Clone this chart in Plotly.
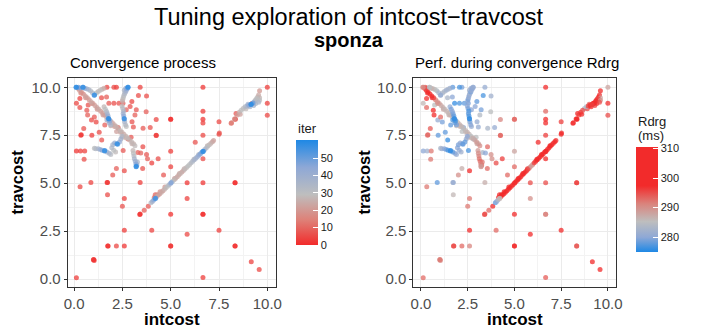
import plotly.graph_objects as go
import pandas as pd

FONT = "Liberation Sans, Arial, sans-serif"
W, H = 706, 333

# ---------------- data ----------------
# scattered early evaluations
scat_x = [6.67, 10.0, 10.0, 10.0, 6.67, 6.67, 6.67, 6.67, 6.67, 5.0,
          5.0, 5.0, 5.0, 5.0, 5.0, 5.0, 6.67, 6.67, 6.67, 6.67,
          5.85, 5.85, 5.85, 7.5, 7.5, 7.52, 7.5, 8.33, 8.33, 8.33,
          8.33, 9.17, 9.58, 8.38, 8.33, 8.35, 8.13, 6.27, 4.25, 4.25,
          4.25, 3.94, 4.35, 4.02, 3.8, 4.63, 3.42, 3.75, 3.73, 3.42,
          3.42, 3.4, 4.02, 3.56, 3.55, 3.75, 2.6, 2.5, 2.6, 2.6,
          2.19, 1.74, 1.76, 1.73, 1.71, 1.73, 2.0, 2.6, 2.19, 1.0,
          1.04, 1.02, 0.12, 0.87, 0.31, 0.12, 0.33, 0.55, 0.52, 0.35,
          0.37, 0.92, 0.5, 0.12, 0.3, 0.66, 0.7, 0.3, 3.63, 3.84,
          2.19, 1.7, 2.06, 3.33, 2.99, 2.9, 1.8, 2.06, 2.32, 2.53,
          2.7, 3.22, 0.9, 1.05, 1.59, 2.28, 3.0, 3.57, 1.42, 1.68,
          3.07, 3.15, 0.73, 1.3, 1.43, 2.54, 3.3, 3.45, 1.14, 2.8,
          2.95]
scat_y = [10.0, 10.0, 9.17, 8.54, 8.75, 8.33, 8.14, 7.5, 6.27, 8.33,
          8.33, 6.67, 5.85, 3.38, 1.72, 1.72, 5.02, 3.38, 3.38, 0.08,
          5.02, 4.2, 2.34, 8.2, 7.55, 7.62, 2.55, 5.02, 5.02, 1.72,
          1.72, 0.9, 0.5, 8.64, 8.35, 8.33, 8.12, 7.13, 8.32, 7.5,
          7.48, 7.9, 6.27, 6.05, 6.27, 5.43, 10.0, 9.55, 8.73, 5.03,
          3.39, 3.37, 2.55, 6.9, 5.76, 6.5, 4.2, 3.79, 2.55, 1.72,
          1.72, 1.72, 1.72, 5.03, 5.03, 4.4, 5.42, 5.65, 5.76, 1.0,
          0.97, 1.02, 0.07, 5.03, 4.81, 6.68, 6.68, 6.68, 6.25, 7.5,
          7.52, 7.5, 7.85, 9.17, 8.95, 8.8, 8.55, 9.42, 3.59, 3.8,
          10.0, 10.0, 10.0, 9.57, 9.26, 9.0, 9.17, 9.17, 9.17, 9.17,
          8.83, 8.83, 8.3, 8.45, 8.04, 7.9, 8.2, 7.86, 9.45, 9.5,
          7.93, 8.55, 9.08, 7.65, 7.25, 6.7, 6.6, 6.58, 8.19, 7.3,
          7.4]
scat_iter = [2, 3, 4, 5, 3, 2, 4, 5, 6, 1,
             0, 3, 4, 1, 0, 2, 2, 1, 0, 3,
             2, 4, 5, 5, 6, 7, 3, 0, 1, 1,
             0, 4, 5, 8, 6, 7, 9, 7, 5, 3,
             2, 7, 6, 4, 9, 8, 4, 6, 9, 3,
             1, 0, 4, 6, 7, 8, 4, 7, 3, 2,
             5, 1, 0, 2, 1, 6, 8, 6, 9, 0,
             1, 2, 3, 4, 5, 2, 3, 4, 6, 2,
             1, 3, 7, 5, 6, 8, 9, 4, 9, 8,
             3, 4, 5, 6, 5, 7, 8, 6, 7, 9,
             10, 8, 6, 8, 9, 10, 7, 8, 6, 9,
             8, 9, 7, 6, 7, 8, 9, 10, 5, 9,
             8]
scat_rdrg = [305, 288, 297, 295, 293, 300, 300, 296, 298, 293,
             294, 288, 293, 302, 303, 303, 295, 291, 292, 294,
             295, 290, 302, 296, 300, 299, 301, 295, 296, 294,
             295, 304, 305, 299, 298, 299, 299, 298, 291, 293,
             294, 281, 296, 295, 290, 293, 281, 282, 285, 287,
             295, 296, 293, 293, 293, 290, 292, 292, 302, 291,
             293, 295, 296, 281, 282, 286, 290, 298, 287, 291,
             291, 292, 293, 278, 292, 280, 282, 292, 292, 293,
             294, 278, 294, 286, 293, 298, 300, 297, 293, 302,
             279, 278, 277, 277, 278, 280, 276, 277, 278, 279,
             280, 279, 281, 293, 278, 280, 281, 283, 283, 280,
             281, 284, 285, 278, 276, 277, 283, 280, 279, 283,
             285]

# convergence trails in the upper-left cluster
t1_x = [0.1, 0.12, 0.22, 0.3, 0.45, 0.47, 0.55, 0.65, 0.75, 0.85, 0.95, 1.04, 1.06, 1.15, 1.25, 1.35, 1.45, 1.55]
t1_y = [10.0, 10.0, 10.0, 9.97, 10.0, 10.0, 9.95, 9.92, 9.88, 9.82, 9.72, 9.58, 9.6, 9.7, 9.78, 9.85, 9.9, 9.95]
t1_iter = [57, 58, 48, 45, 56, 57, 42, 38, 35, 32, 34, 55, 56, 30, 27, 29, 25, 24]
t1_rdrg = [290, 291, 294, 296, 284, 285, 287, 286, 285, 284, 283, 282, 281, 283, 284, 282, 283, 281]

t2_x = [2.78, 2.8, 2.75, 2.7, 2.66, 2.62, 2.58, 2.55, 2.52, 2.5, 2.6, 2.68]
t2_y = [10.0, 10.0, 9.92, 9.84, 9.76, 9.68, 9.58, 9.48, 9.38, 9.28, 9.85, 9.95]
t2_iter = [58, 57, 46, 40, 36, 33, 31, 29, 27, 25, 35, 42]
t2_rdrg = [281, 280, 280, 281, 279, 282, 280, 281, 279, 280, 282, 281]

t3_x = [1.78, 1.8, 1.76, 1.72, 1.68, 1.62, 1.55, 1.85, 1.82, 1.9, 1.7]
t3_y = [8.37, 8.35, 8.5, 8.62, 8.74, 8.86, 8.98, 8.25, 8.15, 8.05, 8.3]
t3_iter = [58, 57, 42, 37, 33, 30, 27, 45, 40, 35, 38]
t3_rdrg = [276, 276, 278, 279, 280, 279, 281, 277, 278, 279, 277]

t4_x = [2.59, 2.6, 2.57, 2.54, 2.56, 2.52, 2.48, 2.62, 2.66, 2.7]
t4_y = [8.37, 8.35, 8.5, 8.63, 8.77, 8.9, 9.02, 8.2, 8.05, 7.95]
t4_iter = [56, 55, 44, 39, 34, 31, 28, 36, 32, 29]
t4_rdrg = [276, 276, 277, 278, 277, 279, 280, 279, 280, 281]

t5_x = [2.25, 2.22, 2.1, 2.0, 1.95, 2.35, 2.42, 2.48, 2.05, 2.15]
t5_y = [7.03, 7.05, 7.1, 7.0, 6.85, 7.15, 7.3, 7.45, 6.72, 6.62]
t5_iter = [57, 56, 42, 37, 34, 43, 38, 34, 30, 28]
t5_rdrg = [278, 279, 280, 279, 280, 278, 281, 280, 281, 282]

t6_x = [1.57, 1.59, 1.45, 1.35, 1.25, 1.12, 1.05, 1.7, 1.82, 1.9]
t6_y = [6.68, 6.7, 6.72, 6.76, 6.79, 6.8, 6.82, 6.62, 6.56, 6.5]
t6_iter = [56, 57, 46, 41, 36, 33, 30, 39, 35, 31]
t6_rdrg = [276, 276, 277, 279, 280, 282, 283, 278, 280, 281]

t7_x = [3.21, 3.22, 3.2, 3.17, 3.12, 3.1, 3.07, 3.05, 3.25, 3.28]
t7_y = [5.85, 5.88, 6.0, 6.14, 6.28, 6.42, 6.56, 6.7, 5.95, 6.1]
t7_iter = [58, 57, 46, 41, 36, 32, 29, 27, 40, 35]
t7_rdrg = [289, 290, 291, 293, 292, 291, 290, 289, 293, 292]

# anti-diagonal streak (0,10) -> (3.2,6.9)
anti_x = [0.2, 0.28, 0.38, 0.48, 0.58, 0.68, 0.78, 0.88, 0.98, 1.08,
          1.18, 1.28, 1.38, 1.48, 1.58, 1.68, 1.88, 1.98, 2.08, 2.18,
          2.28, 2.38, 2.48, 2.58, 2.68, 2.78, 2.88, 2.98, 3.08, 3.15,
          0.35, 0.6, 0.9, 1.2, 1.5, 1.8, 2.1, 2.4, 2.7, 3.0, 1.9, 2.2, 2.5]
anti_y = [9.95, 9.85, 9.75, 9.65, 9.55, 9.45, 9.35, 9.25, 9.15, 9.05,
          8.95, 8.85, 8.75, 8.65, 8.55, 8.45, 8.25, 8.15, 8.05, 7.95,
          7.85, 7.75, 7.65, 7.55, 7.45, 7.35, 7.25, 7.15, 7.05, 6.95,
          9.7, 9.45, 9.15, 8.85, 8.55, 8.25, 7.95, 7.65, 7.35, 7.05, 8.0, 7.7, 7.4]
anti_iter = [18, 20, 19, 17, 22, 21, 20, 23, 19, 21,
             22, 24, 20, 22, 21, 23, 25, 22, 24, 26,
             23, 27, 25, 24, 26, 28, 25, 27, 26, 28,
             16, 18, 20, 19, 21, 22, 20, 23, 24, 26, 24, 22, 25]
anti_rdrg = [300, 302, 301, 300, 298, 296, 292, 290, 289, 288,
             287, 286, 287, 286, 287, 286, 285, 286, 287, 286,
             285, 286, 287, 286, 285, 287, 288, 289, 288, 290,
             299, 297, 290, 288, 287, 286, 287, 286, 287, 288, 286, 285, 287]

# diagonal streak (4,4) -> (7.2,7.2)
diag_x = [3.98, 4.05, 4.12, 4.2, 4.22, 4.2, 4.28, 4.36, 4.44, 4.52,
          4.6, 4.68, 4.76, 4.84, 4.92, 5.0, 5.03, 5.1, 5.18, 5.26,
          5.34, 5.42, 5.5, 5.58, 5.66, 5.74, 5.82, 5.9, 5.98, 6.06,
          6.14, 6.22, 6.3, 6.38, 6.46, 6.54, 6.62, 6.67, 6.69, 6.76,
          6.84, 6.92, 7.0, 7.08, 7.16, 7.22,
          4.15, 4.3, 4.45, 4.7, 5.2, 5.45, 5.7, 6.2, 6.45, 6.9]
diag_y = [3.98, 4.05, 4.12, 4.2, 4.22, 4.4, 4.3, 4.38, 4.45, 4.52,
          4.6, 4.68, 4.76, 4.84, 4.92, 5.0, 5.03, 5.1, 5.18, 5.26,
          5.34, 5.42, 5.5, 5.58, 5.66, 5.74, 5.82, 5.9, 5.98, 6.06,
          6.14, 6.22, 6.3, 6.38, 6.46, 6.54, 6.62, 6.65, 6.67, 6.76,
          6.84, 6.92, 7.0, 7.08, 7.16, 7.22,
          4.25, 4.4, 4.55, 4.8, 5.25, 5.5, 5.75, 6.25, 6.5, 6.95]
diag_iter = [33, 38, 45, 55, 54, 10, 24, 20, 22, 24,
             21, 26, 28, 30, 34, 45, 46, 30, 27, 25,
             23, 24, 26, 22, 25, 28, 27, 30, 29, 32,
             34, 36, 38, 40, 43, 46, 50, 58, 57, 36,
             32, 29, 27, 25, 23, 22,
             12, 15, 18, 20, 22, 24, 25, 28, 30, 26]
diag_rdrg = [278, 280, 283, 286, 287, 302, 300, 301, 299, 302,
             300, 303, 301, 300, 302, 303, 304, 301, 300, 302,
             299, 301, 300, 302, 298, 295, 290, 289, 291, 296,
             300, 302, 301, 303, 302, 304, 303, 304, 305, 303,
             302, 301, 300, 302, 301, 300,
             301, 300, 302, 301, 300, 301, 299, 300, 302, 303]

# upper-right streak (8.2,8.2) -> (9.6,9.8)
ur_x = [8.15, 8.3, 8.45, 8.55, 8.65, 8.75, 8.85, 8.95, 9.05, 9.15,
        9.17, 9.2, 9.25, 9.3, 9.35, 9.4, 9.45, 9.5, 9.55, 9.6,
        9.55, 9.6, 9.6, 9.1, 8.9, 9.3, 9.4, 9.0, 8.6]
ur_y = [8.15, 8.35, 8.55, 8.7, 8.8, 8.9, 8.98, 9.02, 9.07, 9.1,
        9.12, 9.15, 9.18, 9.2, 9.28, 9.35, 9.42, 9.5, 9.6, 9.82,
        9.22, 9.32, 9.45, 8.98, 8.88, 9.05, 9.15, 9.12, 8.6]
ur_iter = [15, 18, 20, 25, 30, 28, 33, 35, 45, 58,
           57, 8, 50, 40, 32, 28, 30, 26, 24, 20,
           35, 30, 27, 36, 28, 38, 34, 40, 22]
ur_rdrg = [297, 298, 296, 297, 295, 283, 284, 296, 298, 296,
           297, 300, 298, 297, 299, 298, 296, 298, 297, 300,
           295, 290, 288, 297, 295, 296, 297, 294, 298]

axis_ticks = [0, 2.5, 5, 7.5, 10]
axis_tick_labels = ["0.0", "2.5", "5.0", "7.5", "10.0"]
iter_ticks = [0, 10, 20, 30, 40, 50]
rdrg_ticks = [280, 290, 300, 310]

# ---------------- build data frame ----------------
groups = [
    (scat_x, scat_y, scat_iter, scat_rdrg),
    (t1_x, t1_y, t1_iter, t1_rdrg),
    (t2_x, t2_y, t2_iter, t2_rdrg),
    (t3_x, t3_y, t3_iter, t3_rdrg),
    (t4_x, t4_y, t4_iter, t4_rdrg),
    (t5_x, t5_y, t5_iter, t5_rdrg),
    (t6_x, t6_y, t6_iter, t6_rdrg),
    (t7_x, t7_y, t7_iter, t7_rdrg),
    (anti_x, anti_y, anti_iter, anti_rdrg),
    (diag_x, diag_y, diag_iter, diag_rdrg),
    (ur_x, ur_y, ur_iter, ur_rdrg),
]
frames = []
for gx, gy, gi, gr in groups:
    assert len(gx) == len(gy) == len(gi) == len(gr), (len(gx), len(gy), len(gi), len(gr))
    frames.append(pd.DataFrame({"intcost": gx, "travcost": gy, "iter": gi, "rdrg": gr}))
df = pd.concat(frames, ignore_index=True).sort_values("iter", kind="stable")


def fx(p):
    return p / W


def fy(p):
    return 1 - p / H


ITER_SCALE = [[0.0, "#F22B2B"], [0.24, "#DE8178"], [0.48, "#BEBEBE"],
              [0.74, "#8EA8D6"], [1.0, "#1E88E5"]]
RDRG_SCALE = [[0.0, "#1E88E5"], [0.14, "#8EA8D6"], [0.29, "#BEBEBE"],
              [0.46, "#DA837C"], [0.63, "#F22B2B"], [1.0, "#F22B2B"]]
ITER_RANGE = (0, 60.5)
RDRG_RANGE = (275, 310.5)

marker_common = dict(size=5, opacity=0.75, line=dict(width=0))

fig = go.Figure()
fig.add_trace(go.Scatter(
    x=df["intcost"], y=df["travcost"], mode="markers", xaxis="x", yaxis="y",
    marker=dict(color=df["iter"], coloraxis="coloraxis", **marker_common),
    hoverinfo="skip", showlegend=False))
fig.add_trace(go.Scatter(
    x=df["intcost"], y=df["travcost"], mode="markers", xaxis="x2", yaxis="y2",
    marker=dict(color=df["rdrg"], coloraxis="coloraxis2", **marker_common),
    hoverinfo="skip", showlegend=False))

axis_common = dict(
    showgrid=True, gridcolor="#EBEBEB", gridwidth=1, zeroline=False,
    showline=True, mirror=True, linecolor="#333333", linewidth=1,
    ticks="outside", ticklen=3, tickcolor="#333333", tickwidth=1,
    tickfont=dict(family=FONT, size=15, color="#4D4D4D"),
    tickmode="array", tickvals=axis_ticks, ticktext=axis_tick_labels,
    minor=dict(tick0=0, dtick=1.25, showgrid=True, gridcolor="#F3F3F3", gridwidth=0.6, ticks=""),
    automargin=False, fixedrange=True,
)
ydom = [fy(286.7), fy(78.3)]

# colour bar geometry (pixels)
CB_LEN = 105
CB1_LEFT, CB1_TOP = 296, 140
CB2_LEFT, CB2_TOP = 636, 147

cb_common = dict(
    thicknessmode="pixels", thickness=22, lenmode="pixels", len=CB_LEN,
    xanchor="left", xpad=0, yanchor="top", ypad=0, tickmode="array",
    ticks="inside", ticklen=5, tickcolor="white", tickwidth=1,
    tickfont=dict(family=FONT, size=11, color="#1A1A1A"), outlinewidth=0,
)

fig.update_layout(
    width=W, height=H, margin=dict(l=0, r=0, t=0, b=0),
    paper_bgcolor="white", plot_bgcolor="white",
    font=dict(family=FONT, color="#000000"),
    xaxis=dict(domain=[fx(67.7), fx(276.0)], range=[-0.33, 10.45], anchor="y", **axis_common),
    yaxis=dict(domain=ydom, range=[-0.4, 10.47], anchor="x", **axis_common),
    xaxis2=dict(domain=[fx(413.3), fx(616.3)], range=[-0.41, 10.45], anchor="y2", **axis_common),
    yaxis2=dict(domain=ydom, range=[-0.4, 10.47], anchor="x2", **axis_common),
    coloraxis=dict(
        cmin=ITER_RANGE[0], cmax=ITER_RANGE[1], colorscale=ITER_SCALE,
        colorbar=dict(x=fx(CB1_LEFT), y=fy(CB1_TOP), tickvals=iter_ticks, **cb_common)),
    coloraxis2=dict(
        cmin=RDRG_RANGE[0], cmax=RDRG_RANGE[1], colorscale=RDRG_SCALE,
        colorbar=dict(x=fx(CB2_LEFT), y=fy(CB2_TOP), tickvals=rdrg_ticks, **cb_common)),
)

# white tick dashes on the left edge of each colour bar (ggplot style)
for left, top, ticks, (lo, hi) in [(CB1_LEFT, CB1_TOP, iter_ticks, ITER_RANGE),
                                   (CB2_LEFT, CB2_TOP, rdrg_ticks, RDRG_RANGE)]:
    for v in ticks:
        ypx = top + CB_LEN * (hi - v) / (hi - lo)
        fig.add_shape(type="line", xref="paper", yref="paper",
                      x0=fx(left), x1=fx(left + 5), y0=fy(ypx), y1=fy(ypx),
                      line=dict(color="white", width=1), layer="above")

ann = [
    dict(text="Tuning exploration of intcost\u2212travcost", x=fx(349), y=fy(17),
         font=dict(size=23.5, family=FONT, color="#000000")),
    dict(text="<b>sponza</b>", x=fx(349), y=fy(40),
         font=dict(size=20, family=FONT, color="#000000")),
    dict(text="Convergence process", x=fx(67.7), y=fy(62.5), xanchor="left",
         font=dict(size=15, family=FONT, color="#000000")),
    dict(text="Perf. during convergence Rdrg", x=fx(413.3), y=fy(62.5), xanchor="left",
         font=dict(size=15, family=FONT, color="#000000")),
    dict(text="<b>intcost</b>", x=fx(171.9), y=fy(319),
         font=dict(size=17, family=FONT, color="#000000")),
    dict(text="<b>intcost</b>", x=fx(514.8), y=fy(319),
         font=dict(size=17, family=FONT, color="#000000")),
    dict(text="<b>travcost</b>", x=fx(16), y=fy(182.5), textangle=-90,
         font=dict(size=16.5, family=FONT, color="#000000")),
    dict(text="<b>travcost</b>", x=fx(363), y=fy(182.5), textangle=-90,
         font=dict(size=16.5, family=FONT, color="#000000")),
    # colour bar titles
    dict(text="iter", x=fx(CB1_LEFT), y=fy(128), xanchor="left",
         font=dict(size=13, family=FONT, color="#1A1A1A")),
    dict(text="Rdrg", x=fx(CB2_LEFT), y=fy(121.5), xanchor="left",
         font=dict(size=13, family=FONT, color="#1A1A1A")),
    dict(text="(ms)", x=fx(CB2_LEFT), y=fy(135), xanchor="left",
         font=dict(size=13, family=FONT, color="#1A1A1A")),
]
for a in ann:
    a.setdefault("xanchor", "center")
    a.update(xref="paper", yref="paper", yanchor="middle", showarrow=False)
    fig.add_annotation(**a)

fig.write_html("out.html")
